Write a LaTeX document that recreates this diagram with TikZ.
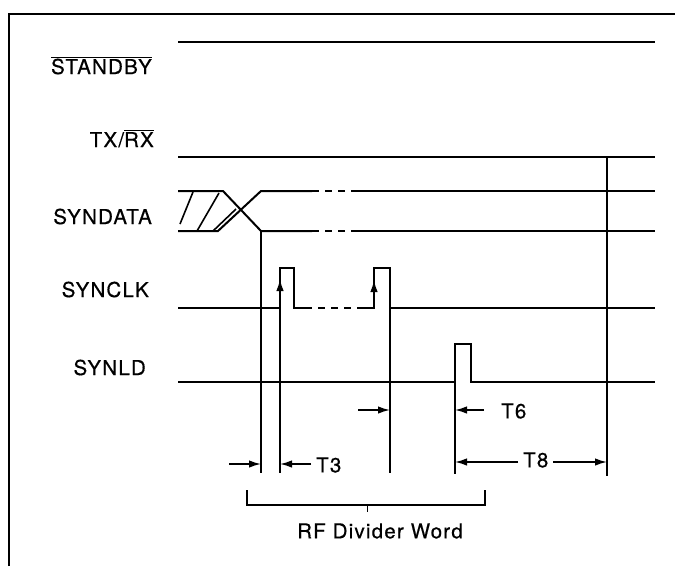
\documentclass[tikz,border=0pt]{standalone}
\usepackage{fontspec}
\setmainfont{TeX Gyre Heros}[LetterSpace=6,FakeBold=0.5]
\usetikzlibrary{arrows.meta}
\tikzset{
  sig/.style={line width=2pt},
  frm/.style={line width=2pt},
  ref/.style={line width=1.6pt},
  dsh/.style={line width=2pt, dash pattern=on 7pt off 6pt},
  tip/.style={-{Latex[length=12pt,width=7.5pt]}},
  dim/.style={line width=1.6pt, tip},
  lbl/.style={font=\fontsize{20.5}{24}\selectfont, inner sep=0pt, anchor=base east},
  tlbl/.style={font=\fontsize{20.5}{24}\selectfont, inner sep=0pt}
}
\newcommand{\ovbar}[1]{$\overline{\hbox{#1}}$}
\begin{document}
\begin{tikzpicture}[x=1pt,y=-1pt]
\useasboundingbox (0,0) rectangle (675,566);
% frame
\draw[frm] (9,566) -- (9,14) -- (675,14);
% labels
\node[lbl] (lstandby) at (152,74) {\ovbar{STANDBY}};
\node[lbl] (ltxrx) at (154,147) {TX/\ovbar{RX}};
\node[lbl] (lsyndata) at (152,224) {SYNDATA};
\node[lbl] (lsynclk) at (149,297) {SYNCLK};
\node[lbl] (lsynld) at (146,375) {SYNLD};
% STANDBY and TX/RX
\draw[sig] (178,42) -- (655,42);
\draw[sig] (178,157) -- (655,157);
% SYNDATA
\draw[sig] (178,191) -- (223,191) -- (261,231) -- (312,231);
\draw[sig] (178,231) -- (218,231) -- (261,191) -- (312,191);
\draw[ref] (180,224) -- (193,192);
\draw[ref] (197,231) -- (219,193);
\draw[ref] (213,231) -- (236,209);
\draw[dsh] (312,191) -- (355,191);
\draw[dsh] (312,231) -- (355,231);
\draw[sig] (355,191) -- (655,191);
\draw[sig] (355,231) -- (655,231);
% SYNCLK
\draw[sig] (178,308) -- (280,308) -- (280,268) -- (294,268) -- (294,308) -- (305,308);
\draw[dsh] (305,308) -- (362,308);
\draw[sig] (362,308) -- (374,308) -- (374,268) -- (390,268) -- (390,308) -- (655,308);
\draw[line width=1.6pt, tip] (280,298) -- (280,279);
\draw[line width=1.6pt, tip] (374,298) -- (374,280);
% SYNLD
\draw[sig] (178,382) -- (455,382) -- (455,344) -- (471,344) -- (471,382) -- (655,382);
% reference verticals
\coordinate (v1) at (261,473);
\coordinate (v2) at (280,473);
\coordinate (v3) at (390,473);
\coordinate (v4) at (455,474);
\coordinate (v5) at (607,476);
\draw[ref] (261,231) -- (v1);
\draw[ref] (280,308) -- (v2);
\draw[ref] (390,308) -- (v3);
\draw[ref] (455,382) -- (v4);
\draw[ref] (607,157) -- (v5);
% dimension arrows
\coordinate (a1t) at (229,464); \coordinate (a1h) at (261,464);
\coordinate (a2t) at (311,464); \coordinate (a2h) at (280,464);
\coordinate (a3t) at (358,410); \coordinate (a3h) at (390,410);
\coordinate (a4t) at (484,410); \coordinate (a4h) at (455,410);
\coordinate (a5t) at (518,462); \coordinate (a5h) at (455,462);
\coordinate (a6t) at (553,462); \coordinate (a6h) at (607,462);
\draw[dim] (a1t) -- (a1h);
\draw[dim] (a2t) -- (a2h);
\draw[dim] (a3t) -- (a3h);
\draw[dim] (a4t) -- (a4h);
\draw[dim] (a5t) -- (a5h);
\draw[dim] (a6t) -- (a6h);
\node[tlbl, anchor=west] (t3) at (316,465) {T3};
\node[tlbl, anchor=west] (t6) at (501,411) {T6};
\node[tlbl, anchor=west] (t8) at (523,460) {T8};
% RF Divider Word bracket
\draw[ref] (247,490) -- (247,505) -- (485,505) -- (485,490);
\draw[line width=1pt] (367,505) -- (367,512);
\node[tlbl] (rfw) at (380,531) {RF Divider Word};
\end{tikzpicture}
\end{document}
